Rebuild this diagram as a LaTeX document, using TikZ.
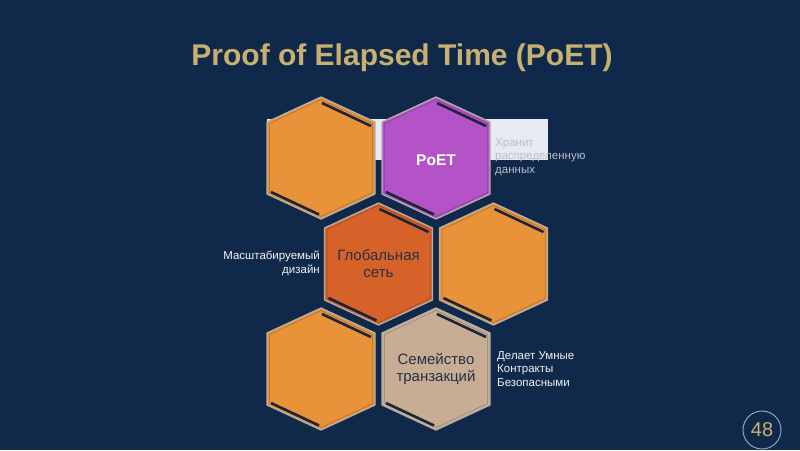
\documentclass[tikz,border=0pt]{standalone}
\usepackage{fontspec}
\setmainfont{Liberation Sans}
\usepackage{tikz}
\usetikzlibrary{positioning}
\definecolor{bgnavy}{HTML}{10294A}
\definecolor{titlegold}{HTML}{C8B070}
\definecolor{hexorange}{HTML}{E8923A}
\definecolor{hexrust}{HTML}{D6622A}
\definecolor{hexpurple}{HTML}{B452C8}
\definecolor{hexbeige}{HTML}{C6AD93}
\definecolor{hexline}{HTML}{B5AEA6}
\definecolor{bevelcol}{HTML}{1C2538}
\definecolor{bandcol}{HTML}{E6EBF3}
\definecolor{hexink}{HTML}{2A2F45}
\definecolor{ringcol}{HTML}{8CA2C2}
\definecolor{fadetext}{HTML}{B9BEC8}

\begin{document}
\begin{tikzpicture}[
  x=1pt,y=-1pt,
  hextext/.style={font=\fontsize{15}{17}\selectfont,text=hexink,align=center},
  note/.style={font=\fontsize{11.5}{13.8}\selectfont,text=white!90!gray,align=left,inner sep=0pt},
  bevel/.style={draw=bevelcol,line width=2.6pt},
  pics/hexcell/.style={code={
    \filldraw[fill=#1,draw=hexline,line width=1.3pt]
      (0,-61) -- (54,-36) -- (54,36) -- (0,61) -- (-54,36) -- (-54,-36) -- cycle;
    \draw[#1!75!black,line width=0.5pt]
      (0,-58.5) -- (51.5,-34.5) -- (51.5,34.5) -- (0,58.5) -- (-51.5,34.5) -- (-51.5,-34.5) -- cycle;
    \draw[bevel] (1,-55) -- (50,-32);
    \draw[bevel] (-50,34) -- (-2,56.5);
  }}]
\fill[bgnavy] (0,0) rectangle (800,450);
\useasboundingbox (0,0) rectangle (800,450);

\node[font=\bfseries\fontsize{30}{34}\selectfont,text=titlegold] (title) at (402,58) {Proof of Elapsed Time (PoET)};

% band behind the top row
\node[fill=bandcol,minimum width=281pt,minimum height=41pt,inner sep=0pt,anchor=north west] (band) at (267,119) {};

% honeycomb
\pic at (321,158) {hexcell=hexorange};
\pic at (436,158) {hexcell=hexpurple};
\pic at (378.5,264) {hexcell=hexrust};
\pic at (493.5,264) {hexcell=hexorange};
\pic at (321,369) {hexcell=hexorange};
\pic at (436,369) {hexcell=hexbeige};

\node[font=\bfseries\fontsize{15.5}{17}\selectfont,text=white] (poet) at (436,160) {PoET};
\node[hextext] (global) at (378.5,264) {Глобальная\\сеть};
\node[hextext] (family) at (436,369) {Семейство\\транзакций};

% side notes
\node[note,anchor=west,text=fadetext] (store) at (495,157) {Хранит\\распределенную\\данных};
\node[note,align=right,anchor=east] (scale) at (320,263) {Масштабируемый\\дизайн};
\node[note,anchor=west] (smart) at (497,369) {Делает Умные\\Контракты\\Безопасными};

% slide number
\node[circle,draw=ringcol,line width=1pt,minimum size=38pt,inner sep=0pt,text=titlegold,font=\fontsize{20}{22}\selectfont] (page) at (762,430) {48};
\end{tikzpicture}
\end{document}
